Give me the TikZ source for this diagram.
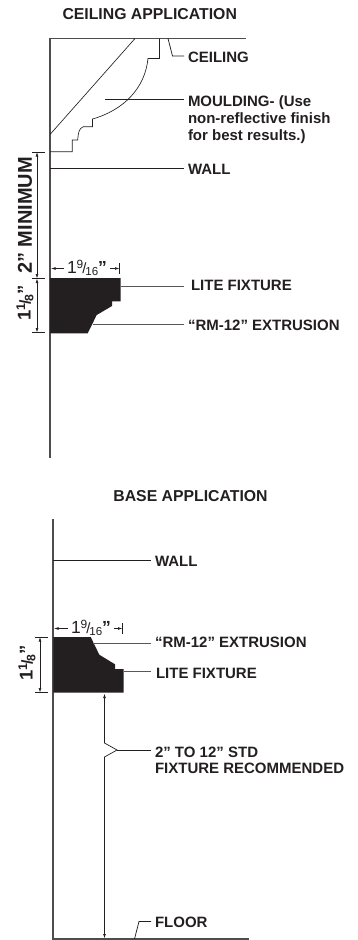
\documentclass[tikz,border=0pt]{standalone}
\usepackage{fontspec}
\setmainfont{Liberation Sans}
\usetikzlibrary{arrows.meta}
\definecolor{ink}{HTML}{231F20}
\newcommand{\dimfrac}[2]{\raisebox{0.3em}{\fontsize{0.68em}{1em}\selectfont #1}\kern-0.06em{\fontsize{0.85em}{1em}\selectfont/}\kern-0.06em\raisebox{-0.14em}{\fontsize{0.66em}{1em}\selectfont #2}}

\begin{document}
\begin{tikzpicture}[x=1pt,y=-1pt,every node/.style={outer sep=0pt},ink,
 >={Latex[length=4.5pt,width=2.8pt]},
 wall/.style={line width=1.1pt,draw=ink!80},
 thinline/.style={line width=0.65pt},
 leader/.style={line width=0.75pt},
 tick/.style={line width=0.6pt},
 dimline/.style={line width=0.6pt,<->},
 profile/.style={fill=ink,draw=none},
 title/.style={font=\bfseries\fontsize{15.8}{17}\selectfont,text=ink,inner sep=0pt},
 callout/.style={font=\bfseries\fontsize{15}{17}\selectfont,text=ink,anchor=west,align=left,inner ysep=0pt,inner xsep=4pt},
 dimtext/.style={font=\fontsize{17.5}{18}\selectfont,text=ink,inner ysep=1pt,inner xsep=3pt},
 sidetext/.style={font=\bfseries\fontsize{20}{22}\selectfont,text=ink,rotate=90,inner sep=0pt},
 sidedim/.style={sidetext,font=\bfseries\fontsize{18.5}{19}\selectfont}]
  \useasboundingbox (0,0) rectangle (357,940);

  % ceiling application
  \node[title] (ctitle) at (149.7,14.5) {CEILING APPLICATION};
  \node[callout] (cceil) at (184,57.7) {CEILING};
  \node[callout,anchor=north west] (cmould) at (184,96) {MOULDING- (Use\\non-reflective finish\\for best results.)};
  \node[callout] (cwall) at (184,169.5) {WALL};
  \node[callout,inner xsep=7pt] (clite) at (184,285.7) {LITE FIXTURE};
  \node[callout] (crm) at (184,325.7) {“RM-12” EXTRUSION};

  \coordinate (ccorner) at (50,38.5);
  \coordinate (cwallend) at (50,458);
  \draw[wall] (cwallend) -- (ccorner) -- (246,38.5);
  \draw[thinline] (50,134.5) -- (135,38.5);
  \draw[thinline] (159.5,38.5) -- (159.5,58.5) -- (148,58.5)
   .. controls (145,88) and (124,110) .. (92.5,119)
   -- (92.5,126.7) -- (83.3,126.7)
   .. controls (79,128) and (78,134) .. (77.7,140)
   -- (72.3,140) -- (72.3,151.7) -- (50,151.7);

  \fill[profile] (50,278) -- (120.5,278) -- (120.5,301.3) -- (112,301.3) -- (112,306)
   -- (96.7,315) -- (87.7,333.3) -- (50,333.3) -- cycle;

  \coordinate (aux1) at (168,38.5);
  \draw[leader] (aux1) -- (172.5,56) -- (cceil.west|-0,56);
  \coordinate (aux2) at (105,99);
  \draw[leader] (aux2) -- (cmould.west|-aux2);
  \coordinate (aux3) at (50,168);
  \draw[leader] (aux3) -- (cwall.west|-aux3);
  \coordinate (aux4) at (120.5,286);
  \draw[leader,line width=1pt,draw=ink!75] (aux4) -- (clite.west|-aux4);
  \coordinate (aux5) at (93,324);
  \draw[leader,line width=1pt,draw=ink!75] (aux5) -- (crm.west|-aux5);

  \foreach \Y in {152,278.5,332.5}
   {\draw[tick] (32,\Y) -- (44.5,\Y);}
  \coordinate (cd1) at (37,152);
  \coordinate (cd2) at (37,278.5);
  \coordinate (cd3) at (37,332.5);
  \draw[dimline] (cd1) -- (cd2);
  \draw[dimline] (cd2) -- (cd3);
  \node[sidetext] (cmin) at (25,215.5) {2” MINIMUM};
  \node[sidedim] (cheight) at (25,303) {1\dimfrac{1}{8}”};

  \coordinate (cw1) at (51,268.5);
  \coordinate (cw2) at (119.5,268.5);
  \draw[tick] (cw2) ++(0,-5.5) -- ++(0,11);
  \node[dimtext] (cwidth) at (87,268) {1\dimfrac{9}{16}\textbf{”}};
  \draw[tick,<-] (cw1) -- (cwidth.west|-cw1);
  \draw[tick,<-] (cw2) -- (cwidth.east|-cw2);

  % base application
  \node[title] (btitle) at (190.5,496) {BASE APPLICATION};
  \node[callout] (bwall) at (151,561.7) {WALL};
  \node[callout] (brm) at (151,642.7) {“RM-12” EXTRUSION};
  \node[callout,inner xsep=5pt] (blite) at (151,673.7) {LITE FIXTURE};
  \node[callout,anchor=north west,font=\bfseries\fontsize{15}{16}\selectfont] (bstd) at (151,747.5) {2” TO 12” STD\\FIXTURE RECOMMENDED};
  \node[callout] (bfloor) at (151,922) {FLOOR};

  \coordinate (bcorner) at (53,939);
  \draw[wall] (53,519) -- (bcorner) -- (249,939);

  \fill[profile] (53.3,637) -- (90.7,637) -- (99.3,654.7) -- (115,664.3) -- (115,669)
   -- (123.7,669) -- (123.7,692.7) -- (53.3,692.7) -- cycle;

  \coordinate (aux6) at (53,560);
  \draw[leader] (aux6) -- (bwall.west|-aux6);
  \coordinate (aux7) at (93,643);
  \draw[leader,line width=1pt,draw=ink!75] (aux7) -- (brm.west|-aux7);
  \coordinate (aux8) at (123.7,671);
  \draw[leader,line width=1pt,draw=ink!75] (aux8) -- (blite.west|-aux8);
  \coordinate (aux9) at (117,750);
  \draw[leader] (aux9) -- (bstd.west|-aux9);
  \coordinate (aux10) at (134.5,939);
  \draw[leader] (aux10) -- (139,921.5) -- (bfloor.west|-0,921.5);

  \coordinate (bs1) at (104.5,693.5);
  \coordinate (bs2) at (104.5,938.5);
  \draw[dimline,line width=0.7pt] (bs1) -- (104.5,743) -- (aux9) -- (104.5,757) -- (bs2);

  \foreach \Y in {637,692.5}
   {\draw[tick] (35,\Y) -- (48,\Y);}
  \coordinate (bd1) at (40,637);
  \coordinate (bd2) at (40,692.5);
  \draw[dimline] (bd1) -- (bd2);
  \node[sidedim] (bheight) at (27,663) {1\dimfrac{1}{8}”};

  \coordinate (bw1) at (54,628.5);
  \coordinate (bw2) at (122.5,628.5);
  \draw[tick] (bw2) ++(0,-5.5) -- ++(0,11);
  \node[dimtext] (bwidth) at (91,628) {1\dimfrac{9}{16}\textbf{”}};
  \draw[tick,<-] (bw1) -- (bwidth.west|-bw1);
  \draw[tick,<-] (bw2) -- (bwidth.east|-bw2);
\end{tikzpicture}
\end{document}
